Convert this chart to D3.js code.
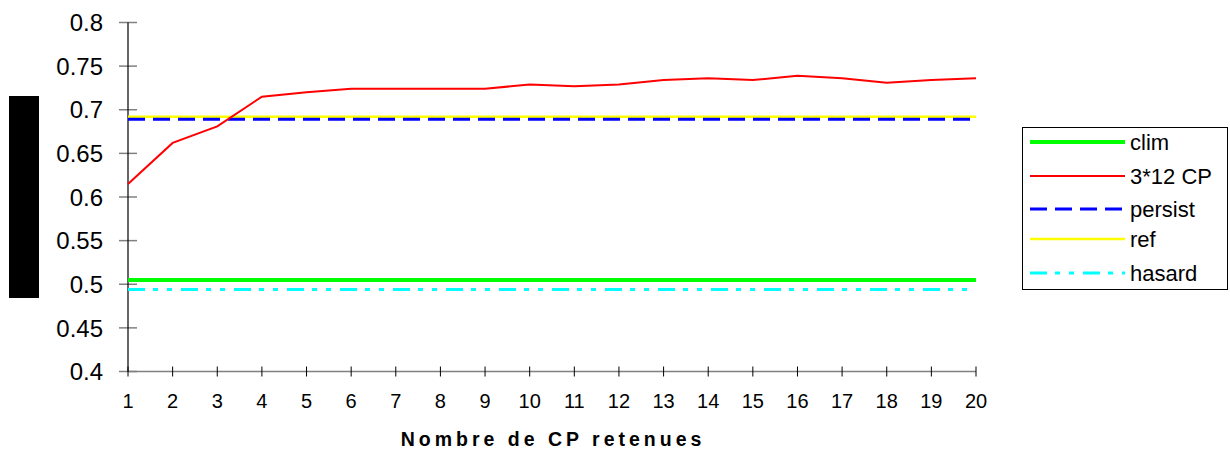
<!DOCTYPE html>
<meta charset="utf-8">
<style>
    body { margin: 0; background: #fff; }
    svg text { font-family: "Liberation Sans", Arial, sans-serif; fill: #000; }
</style>
<body>
<div id="plotarea"></div>
<script src="https://cdn.jsdelivr.net/npm/d3@7"></script>
<script>

    var nbCP = [1,2,3,4,5,6,7,8,9,10,11,12,13,14,15,16,17,18,19,20];
    var cp3x12 = [0.615,0.662,0.681,0.715,0.720,0.724,0.724,0.724,0.724,0.729,0.727,0.729,0.734,0.736,0.734,0.739,0.736,0.731,0.734,0.736];
    var clim = 0.505;
    var persist = 0.689;
    var ref = 0.692;
    var hasard = 0.494;
    var yTicks = [0.4,0.45,0.5,0.55,0.6,0.65,0.7,0.75,0.8];

    var width = 1230, height = 449;

    var x = d3.scaleLinear().domain([1, 20]).range([128, 976]);
    var y = d3.scaleLinear().domain([0.4, 0.8]).range([371.5, 22.5]);

    var svg = d3.select("#plotarea").append("svg")
            .attr("width", width)
            .attr("height", height);

    // redacted axis title
    svg.append("rect").attr("x", 9).attr("y", 96).attr("width", 30).attr("height", 202).attr("fill", "#000");

    // y axis
    var yAxis = svg.append("g").attr("transform", "translate(128,0)");
    yAxis.selectAll("line.tick").data(yTicks).enter().append("line")
            .attr("x1", -9).attr("x2", 9)
            .attr("y1", function(d) { return y(d); })
            .attr("y2", function(d) { return y(d); })
            .attr("stroke", "#808080").attr("stroke-width", 1.5);
    yAxis.selectAll("text").data(yTicks).enter().append("text")
            .attr("x", -25)
            .attr("y", function(d) { return y(d); })
            .attr("dy", "0.36em")
            .attr("text-anchor", "end")
            .style("font-size", "24px")
            .text(function(d) { return d; });

    // x axis
    svg.append("line").attr("x1", 128).attr("x2", 976).attr("y1", y(0.4)).attr("y2", y(0.4))
            .attr("stroke", "#808080").attr("stroke-width", 1.5);
    svg.selectAll("line.xtick").data(nbCP).enter().append("line")
            .attr("x1", function(d) { return x(d); })
            .attr("x2", function(d) { return x(d); })
            .attr("y1", y(0.4) - 5).attr("y2", y(0.4) + 5)
            .attr("stroke", "#000").attr("stroke-width", 1);
    svg.selectAll("text.xlab").data(nbCP).enter().append("text")
            .attr("x", function(d) { return x(d); })
            .attr("y", 408)
            .attr("text-anchor", "middle")
            .style("font-size", "20px")
            .text(function(d) { return d; });
    svg.append("line").attr("x1", 128).attr("x2", 128).attr("y1", y(0.8)).attr("y2", y(0.4))
            .attr("stroke", "#000").attr("stroke-width", 1.2);

    svg.append("text")
            .attr("x", 553).attr("y", 446)
            .attr("text-anchor", "middle")
            .style("font-size", "19.5px").style("font-weight", "bold").style("letter-spacing", "4px")
            .text("Nombre de CP retenues");

    // series definitions
    var series = [
        {name: "clim", color: "#00ff00", w: 4, dash: null},
        {name: "3*12 CP", color: "#ff0000", w: 2, dash: null},
        {name: "persist", color: "#0000ff", w: 3, dash: "17,8"},
        {name: "ref", color: "#ffff00", w: 2.5, dash: null},
        {name: "hasard", color: "#00ffff", w: 3, dash: "17,8,5,9,5,9"}
    ];
    var flat = {"clim": clim, "persist": persist, "ref": ref, "hasard": hasard};

    var line = d3.line()
            .x(function(d) { return x(d[0]); })
            .y(function(d) { return y(d[1]); });

    var order = ["ref", "persist", "clim", "hasard", "3*12 CP"];
    order.forEach(function(n) {
        var s = series.filter(function(d) { return d.name === n; })[0];
        var pts = n === "3*12 CP"
                ? nbCP.map(function(c, i) { return [c, cp3x12[i]]; })
                : [[1, flat[n]], [20, flat[n]]];
        svg.append("path")
                .attr("d", line(pts))
                .attr("fill", "none")
                .attr("stroke", s.color)
                .attr("stroke-width", s.w)
                .attr("stroke-dasharray", s.dash);
    });

    // legend
    var legend = svg.append("g");
    legend.append("rect").attr("x", 1022.5).attr("y", 127.5).attr("width", 205).attr("height", 162)
            .attr("fill", "#fff").attr("stroke", "#000").attr("stroke-width", 1);
    var rowsY = [142, 176, 209, 239, 273];
    series.forEach(function(s, i) {
        legend.append("line")
                .attr("x1", 1030).attr("x2", 1125)
                .attr("y1", rowsY[i]).attr("y2", rowsY[i])
                .attr("stroke", s.color)
                .attr("stroke-width", s.w)
                .attr("stroke-dasharray", s.dash);
        legend.append("text")
                .attr("x", 1130).attr("y", rowsY[i])
                .attr("dy", "0.36em")
                .style("font-size", "22px")
                .text(s.name);
    });

</script>
